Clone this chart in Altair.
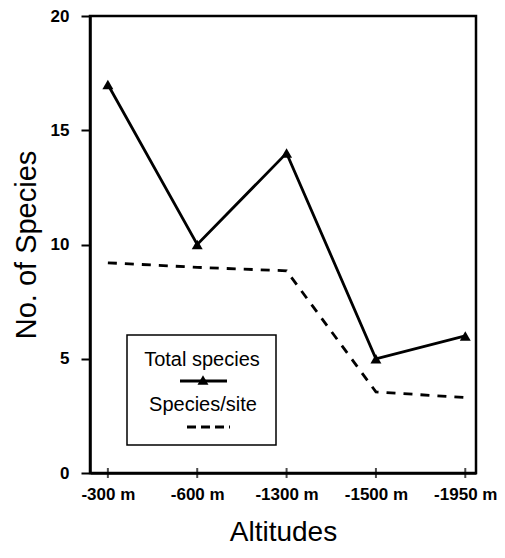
import altair as alt
import pandas as pd

# ---- data ----
altitudes = ["-300 m", "-600 m", "-1300 m", "-1500 m", "-1950 m"]
total_species = [17, 10, 14, 5, 6]
species_per_site = [9.2, 9.0, 8.85, 3.55, 3.3]
y_ticks = [0, 5, 10, 15, 20]
legend_labels = ["Total species", "Species/site"]

df = pd.DataFrame({
    "idx": list(range(len(altitudes))),
    "alt": altitudes,
    "total": total_species,
    "site": species_per_site,
})

FONT = "Liberation Sans"
label_expr = "[" + ",".join("'%s'" % a for a in altitudes) + "][datum.value]"

W, H = 386, 457

x_scale = alt.Scale(domain=[-0.2, 4.12], nice=False, zero=False)
y_scale = alt.Scale(domain=[0, 20], nice=False)

x_axis = alt.Axis(values=list(range(len(altitudes))), labelExpr=label_expr,
                  title="Altitudes", ticks=False, grid=False,
                  labelFont=FONT, labelFontSize=17, labelFontWeight="bold",
                  labelColor="black", labelPadding=13,
                  titleFont=FONT, titleFontSize=28, titleFontWeight="normal",
                  titleColor="black", titlePadding=16,
                  domainColor="black", domainWidth=2.5)
y_axis = alt.Axis(values=y_ticks, title="No. of Species", grid=False,
                  tickSize=9, tickWidth=2, tickColor="black",
                  labelFont=FONT, labelFontSize=17, labelFontWeight="bold",
                  labelColor="black", labelPadding=12,
                  titleFont=FONT, titleFontSize=29, titleFontWeight="normal",
                  titleColor="black", titlePadding=9,
                  domainColor="black", domainWidth=2.5)

base = alt.Chart(df)

total_line = base.mark_line(color="black", strokeWidth=2.8).encode(
    x=alt.X("idx:Q", scale=x_scale, axis=x_axis),
    y=alt.Y("total:Q", scale=y_scale, axis=y_axis),
)
total_pts = base.mark_point(shape="triangle-up", filled=True, color="black",
                            opacity=1, size=120).encode(
    x=alt.X("idx:Q", scale=x_scale),
    y=alt.Y("total:Q", scale=y_scale),
)
site_line = base.mark_line(color="black", strokeWidth=2.8,
                           strokeDash=[9, 8]).encode(
    x=alt.X("idx:Q", scale=x_scale),
    y=alt.Y("site:Q", scale=y_scale),
)
x_ticks = base.mark_tick(orient="vertical", size=10, thickness=2,
                         color="black").encode(
    x=alt.X("idx:Q", scale=x_scale),
    y=alt.datum(0),
)

one = pd.DataFrame({"k": [0]})

# plot frame (top and right sides)
frame = alt.Chart(one).mark_rect(fill=None, stroke="black",
                                 strokeWidth=2.5).encode(
    x=alt.value(0), x2=alt.value(W), y=alt.value(0), y2=alt.value(H))

# ---- hand-drawn legend box ----
lbox = alt.Chart(one).mark_rect(fill="white", stroke="black",
                                strokeWidth=1.5).encode(
    x=alt.value(37), x2=alt.value(186), y=alt.value(319), y2=alt.value(429))
ltext1 = alt.Chart(one).mark_text(text=legend_labels[0], font=FONT, fontSize=20,
                                  color="black", baseline="middle",
                                  align="center").encode(
    x=alt.value(112), y=alt.value(344))
lsym1 = alt.Chart(one).mark_rule(color="black", strokeWidth=3).encode(
    x=alt.value(90), x2=alt.value(137), y=alt.value(365))
ltri = alt.Chart(one).mark_point(shape="triangle-up", filled=True,
                                 color="black", opacity=1, size=120).encode(
    x=alt.value(113), y=alt.value(364))
ltext2 = alt.Chart(one).mark_text(text=legend_labels[1], font=FONT, fontSize=20,
                                  color="black", baseline="middle",
                                  align="center").encode(
    x=alt.value(113), y=alt.value(389))
lsym2 = alt.Chart(one).mark_rule(color="black", strokeWidth=3,
                                 strokeDash=[9, 5]).encode(
    x=alt.value(97), x2=alt.value(140), y=alt.value(411))

chart = alt.layer(
    frame, site_line, total_line, total_pts, x_ticks,
    lbox, ltext1, lsym1, ltri, ltext2, lsym2,
).properties(
    width=W, height=H,
    autosize=alt.AutoSizeParams(type="none"),
    padding={"left": 82, "top": 8, "right": 21, "bottom": 77},
).configure_view(
    stroke=None,
).configure(background="white")

chart.save("out.html", embed_options={"renderer": "svg", "actions": False})
